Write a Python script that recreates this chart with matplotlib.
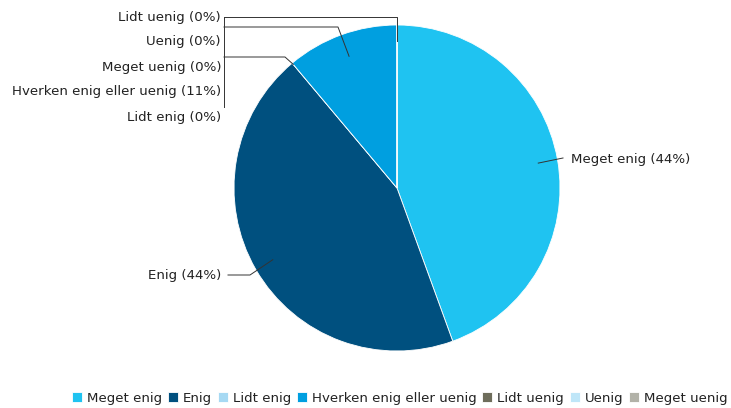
import numpy as np
import matplotlib
matplotlib.use('Agg')
import matplotlib.pyplot as plt

# Survey answers (counts)
categories = ['Meget enig', 'Enig', 'Lidt enig', 'Hverken enig eller uenig',
              'Lidt uenig', 'Uenig', 'Meget uenig']
counts = [4, 4, 0, 1, 0, 0, 0]
colors = ['#1fc3f1', '#00507f', '#a6d9f3', '#009fe0', '#6e6d5b', '#bfe6f8', '#b2b2a8']

total = sum(counts)
pcts = [int(round(100 * c / total)) for c in counts]
labels = [f'{c} ({p}%)' for c, p in zip(categories, pcts)]

fig = plt.figure(figsize=(7.31, 4.08), dpi=100)
ax = fig.add_axes([0, 0, 1, 1])

cx, cy, r = 397, 188, 163
wedges, _ = ax.pie(counts, colors=colors, center=(cx, cy), radius=r,
                   startangle=-90, counterclock=True,
                   wedgeprops=dict(edgecolor='white', linewidth=0.6))
ax.set_xlim(0, 731)
ax.set_ylim(408, 0)
ax.set_aspect('equal')
ax.axis('off')

# angle helpers (data coords, y down)
angles = np.cumsum([0] + counts) / total * 360 - 90
def pt(ang, frac):
    a = np.deg2rad(ang)
    return cx + frac * r * np.cos(a), cy + frac * r * np.sin(a)

line_kw = dict(color='#333333', linewidth=0.7)
txt_kw = dict(fontsize=9.6, color='#222222', va='center')

# right / lower labels
mid0 = (angles[0] + angles[1]) / 2
x0, y0 = pt(mid0, 0.88)
ax.plot([x0, 563], [y0, 158], **line_kw)
ax.text(571, 159, labels[0], ha='left', **txt_kw)

mid1 = (angles[1] + angles[2]) / 2
x1, y1 = pt(mid1, 0.88)
ax.plot([x1, 250, 228], [y1, 275, 275], **line_kw)
ax.text(221, 275, labels[1], ha='right', **txt_kw)

# left stacked labels
stack = {4: 17, 5: 42, 6: 67, 3: 92, 2: 117}
for i, yy in stack.items():
    ax.text(221, yy, labels[i], ha='right', **txt_kw)

ax.plot([224, 224], [17, 107], **line_kw)
xa, ya = pt(angles[4], 0.9)
ax.plot([224, xa, xa], [17, 17, ya], **line_kw)
mid3 = (angles[3] + angles[4]) / 2
xb, yb = pt(mid3, 0.86)
ax.plot([224, 338, xb], [27, 27, yb], **line_kw)
xc, yc = pt(angles[3], 0.99)
ax.plot([224, 285, xc], [57, 57, yc], **line_kw)

fig.legend(wedges, categories, loc='center', bbox_to_anchor=(0.547, 0.024),
           ncol=7, frameon=False, fontsize=9.6, handlelength=0.75, handleheight=0.75,
           handletextpad=0.35, columnspacing=0.45, borderaxespad=0,
           labelcolor='#222222')

fig.savefig('out.png', dpi=100)
